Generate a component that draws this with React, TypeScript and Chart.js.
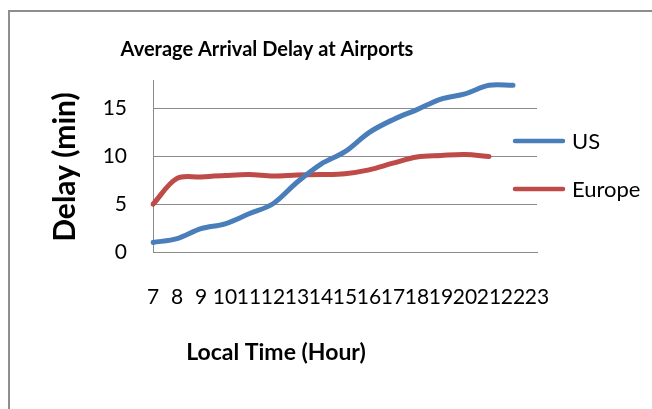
import React, { useEffect, useRef } from "react";
import { Chart, registerables } from "chart.js";

Chart.register(...registerables);

const hours = ["7", "8", "9", "10", "11", "12", "13", "14", "15", "16", "17", "18", "19", "20", "21", "22", "23"];
const usDelay = [1.0, 1.4, 2.45, 2.95, 4.0, 5.05, 7.3, 9.2, 10.5, 12.5, 13.85, 14.9, 16.0, 16.55, 17.45, 17.45];
const europeDelay = [5.0, 7.7, 7.85, 8.0, 8.1, 7.95, 8.05, 8.1, 8.2, 8.6, 9.3, 9.95, 10.1, 10.2, 10.0];
const seriesNames = ["US", "Europe"];
const titleText = "Average Arrival Delay at Airports";
const xTitleText = "Local Time (Hour)";
const yTitleText = "Delay (min)";
const yMax = 18;
const yStep = 5;

const FONT = "Lato, 'Noto Sans', sans-serif";
const BLUE = "#4A7EBB";
const RED = "#BE4B48";
const GRID = "#8a8a8a";

const textPlugin = {
  id: "excelText",
  afterDraw(chart: any) {
    const ctx = chart.ctx;
    ctx.save();
    ctx.fillStyle = "#000";
    // title
    ctx.font = `bold 20px ${FONT}`;
    ctx.textAlign = "center";
    ctx.textBaseline = "alphabetic";
    ctx.fillText(titleText, 257, 44);
    // x title
    ctx.font = `bold 23px ${FONT}`;
    ctx.fillText(xTitleText, 266, 348);
    // y title
    ctx.save();
    ctx.translate(65, 155);
    ctx.rotate(-Math.PI / 2);
    ctx.font = `bold 30px ${FONT}`;
    ctx.fillText(yTitleText, 0, 0);
    ctx.restore();
    // legend
    const ys = [129, 177];
    chart.data.datasets.forEach((ds: any, i: number) => {
      ctx.strokeStyle = ds.borderColor;
      ctx.lineWidth = 4.5;
      ctx.lineCap = "round";
      ctx.beginPath();
      ctx.moveTo(505, ys[i]);
      ctx.lineTo(553, ys[i]);
      ctx.stroke();
      ctx.font = `22px ${FONT}`;
      ctx.textAlign = "left";
      ctx.textBaseline = "middle";
      ctx.fillStyle = "#000";
      ctx.fillText(ds.label, 562, ys[i] + 1);
    });
    ctx.restore();
  },
};

export default function App() {
  const ref = useRef<HTMLCanvasElement>(null);
  useEffect(() => {
    if (!ref.current) return;
    const chart = new Chart(ref.current, {
      type: "line",
      data: {
        labels: hours,
        datasets: [
          {
            label: seriesNames[0],
            data: usDelay,
            borderColor: BLUE,
            backgroundColor: BLUE,
            borderWidth: 5,
            pointRadius: 0,
            tension: 0.35,
            borderCapStyle: "round",
            borderJoinStyle: "round",
          },
          {
            label: seriesNames[1],
            data: europeDelay,
            borderColor: RED,
            backgroundColor: RED,
            borderWidth: 5,
            pointRadius: 0,
            tension: 0.35,
            borderCapStyle: "round",
            borderJoinStyle: "round",
          },
        ],
      },
      options: {
        responsive: false,
        animation: false,
        devicePixelRatio: 1,
        layout: { padding: { left: 73, right: 115, top: 68, bottom: 97 } },
        plugins: {
          legend: { display: false },
          title: { display: false },
          tooltip: { enabled: false },
        },
        scales: {
          x: {
            offset: false,
            afterFit: (s: any) => {
              s.height = 60;
            },
            grid: { display: false, drawTicks: false },
            border: { display: true, color: GRID, width: 1 },
            ticks: {
              autoSkip: false,
              maxRotation: 0,
              minRotation: 0,
              padding: 33,
              color: "#000",
              font: { family: FONT, size: 21 },
            },
          },
          y: {
            min: 0,
            max: yMax,
            afterFit: (s: any) => {
              s.width = 70;
            },
            grid: {
              drawTicks: false,
              color: (c: any) => (c.tick && c.tick.value % yStep !== 0 ? "rgba(0,0,0,0)" : GRID),
              lineWidth: 1,
            },
            border: { display: true, color: GRID, width: 1 },
            ticks: {
              stepSize: yStep,
              padding: 26,
              color: "#000",
              font: { family: FONT, size: 21 },
              callback: (v: any) => (v % yStep === 0 ? String(v) : ""),
            },
          },
        },
      },
      plugins: [textPlugin],
    });
    return () => chart.destroy();
  }, []);
  return (
    <div
      style={{
        position: "fixed",
        left: 8,
        top: 10,
        width: 644,
        height: 399,
        boxSizing: "border-box",
        borderLeft: "2px solid #8e8e8e",
        borderTop: "2px solid #8e8e8e",
        overflow: "hidden",
        background: "#fff",
      }}
    >
      <canvas ref={ref} width={642} height={397} style={{ display: "block", width: 642, height: 397 }} />
    </div>
  );
}
